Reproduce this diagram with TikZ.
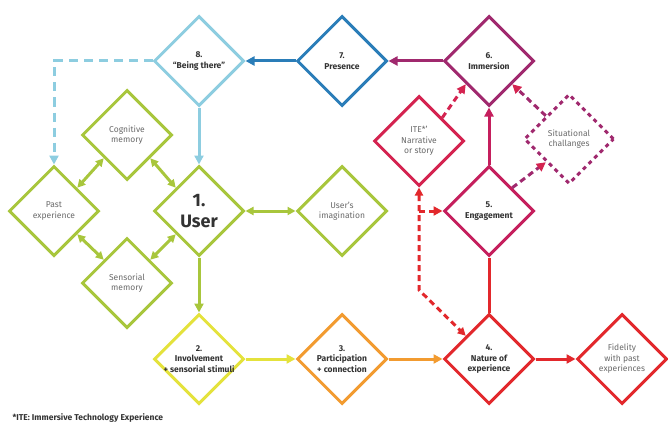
\documentclass[tikz,border=0pt]{standalone}
\usepackage{fontspec}
\setmainfont{Fira Sans}
\usetikzlibrary{shapes.geometric,arrows.meta,calc}
\definecolor{cgreen}{HTML}{A8C63C}
\definecolor{clblue}{HTML}{8DCDE0}
\definecolor{cblue}{HTML}{2A7DB8}
\definecolor{cpurple}{HTML}{A0296E}
\definecolor{cmagenta}{HTML}{C51F5D}
\definecolor{ccrimson}{HTML}{D42350}
\definecolor{cred}{HTML}{E2282C}
\definecolor{corange}{HTML}{F29B30}
\definecolor{cyellow}{HTML}{E4E23C}
\definecolor{cdark}{HTML}{333333}
\definecolor{cgray}{HTML}{6A6A6A}
\tikzset{
  dia/.style={diamond, aspect=1, minimum size=90pt, inner sep=0pt, line width=3pt, draw=#1, fill=white},
  boldlab/.style={font=\fontsize{8.5}{10.5}\selectfont\bfseries, text=cdark, align=center},
  plainlab/.style={font=\fontsize{8.5}{10.5}\selectfont, text=cgray, align=center},
  conn/.style={line width=3pt, draw=#1},
  tip/.style={-{Triangle[length=9pt,width=9pt]}},
  ctip/.style={-{Triangle[length=9pt,width=9pt,color=#1]}},
  dtip/.style={{Triangle[length=8pt,width=8pt]}-{Triangle[length=8pt,width=8pt]}},
  dashline/.style={line width=3pt, dash pattern=on 6pt off 4pt}
}
\begin{document}
\begin{tikzpicture}[x=1pt,y=-1pt]
\useasboundingbox (0,0) rectangle (668,425);
% diamonds
\node[dia=clblue, label={[boldlab]center:8.\\“Being there”}] (n8) at (199,61) {};
\node[dia=cblue, label={[boldlab]center:7.\\Presence}] (n7) at (342,61) {};
\node[dia=cpurple, label={[boldlab]center:6.\\Immersion}] (n6) at (489,61) {};
\node[dia=ccrimson, label={[plainlab]center:ITE*'\\Narrative\\or story}] (ite) at (419,141) {};
\node[diamond, aspect=1, minimum size=90pt, inner sep=0pt, line width=3pt, draw=cpurple, dash pattern=on 4pt off 4pt, label={[plainlab]center:Situational\\challanges}] (sit) at (569,139) {};
\node[dia=cmagenta, label={[boldlab]center:5.\\Engagement}] (n5) at (489,211) {};
\node[dia=cred, label={[boldlab]center:4.\\Nature of\\experience}] (n4) at (489,359) {};
\node[dia=cred, label={[plainlab]center:Fidelity\\with past\\experiences}] (fid) at (622,359) {};
\node[dia=corange, label={[boldlab]center:3.\\Participation\\+ connection}] (n3) at (342,359) {};
\node[dia=cyellow, label={[boldlab]center:2.\\Involvement\\+ sensorial stimuli}] (n2) at (199,359) {};
\node[dia=cgreen, label={[font=\fontsize{18}{21}\selectfont\bfseries, text=cdark, align=center]center:1.\\User}] (user) at (199,211) {};
\node[dia=cgreen, label={[plainlab]center:User’s\\imagination}] (imag) at (342,211) {};
\node[dia=cgreen, label={[plainlab]center:Past\\experience}] (past) at (54,211) {};
\node[dia=cgreen, label={[plainlab]center:Cognitive\\memory}] (cog) at (127,135) {};
\node[dia=cgreen, label={[plainlab]center:Sensorial\\memory}] (sens) at (127,283) {};
% connectors
\draw[conn=cblue, tip, cblue] (n7.west) -- (n8.east);
\draw[conn=cpurple, tip, cpurple] (n6.west) -- (n7.east);
\draw[conn=clblue, tip, clblue] (n8.south) -- (user.north);
\draw[line width=3pt, draw=clblue, dash pattern=on 9pt off 6pt, tip, clblue] (n8.west) -| (past.north);
\draw[conn=cgreen, dtip, cgreen] (past.north east) -- (cog.south west);
\draw[conn=cgreen, dtip, cgreen] (cog.south east) -- (user.north west);
\draw[conn=cgreen, dtip, cgreen] (user.east) -- (imag.west);
\draw[conn=cgreen, dtip, cgreen] (past.south east) -- (sens.north west);
\draw[conn=cgreen, dtip, cgreen] (sens.north east) -- (user.south west);
\draw[conn=cgreen, tip, cgreen] (user.south) -- (n2.north);
\draw[conn=cyellow, tip, cyellow] (n2.east) -- (n3.west);
\draw[conn=corange, tip, corange] (n3.east) -- (n4.west);
\draw[conn=cred, tip, cred] (n4.east) -- (fid.west);
\draw[conn=cred] (n4.north) -- (n5.south);
\draw[conn=cmagenta, tip, cmagenta] (n5.north) -- (n6.south);
% dashed red connectors
\coordinate (bend) at (419,290);
\coordinate (branch) at (419,211);
\draw[dashline, cred, dtip] (ite.south) -- (bend) -- (n4.north west);
\draw[dashline, cred, tip] (branch) -- (n5.west);
\draw[dashline, ccrimson, tip] (ite.north east) -- (n6.south west);
\draw[dashline, cpurple, ctip=ccrimson] (sit.north west) -- (n6.south east);
\draw[dashline, cpurple, ctip=ccrimson] (n5.north east) -- (sit.south west);
% footnote
\node[anchor=west, font=\fontsize{8.5}{10}\selectfont\bfseries, text=cdark] (foot) at (9,418) {*ITE: Immersive Technology Experience};
\end{tikzpicture}
\end{document}
